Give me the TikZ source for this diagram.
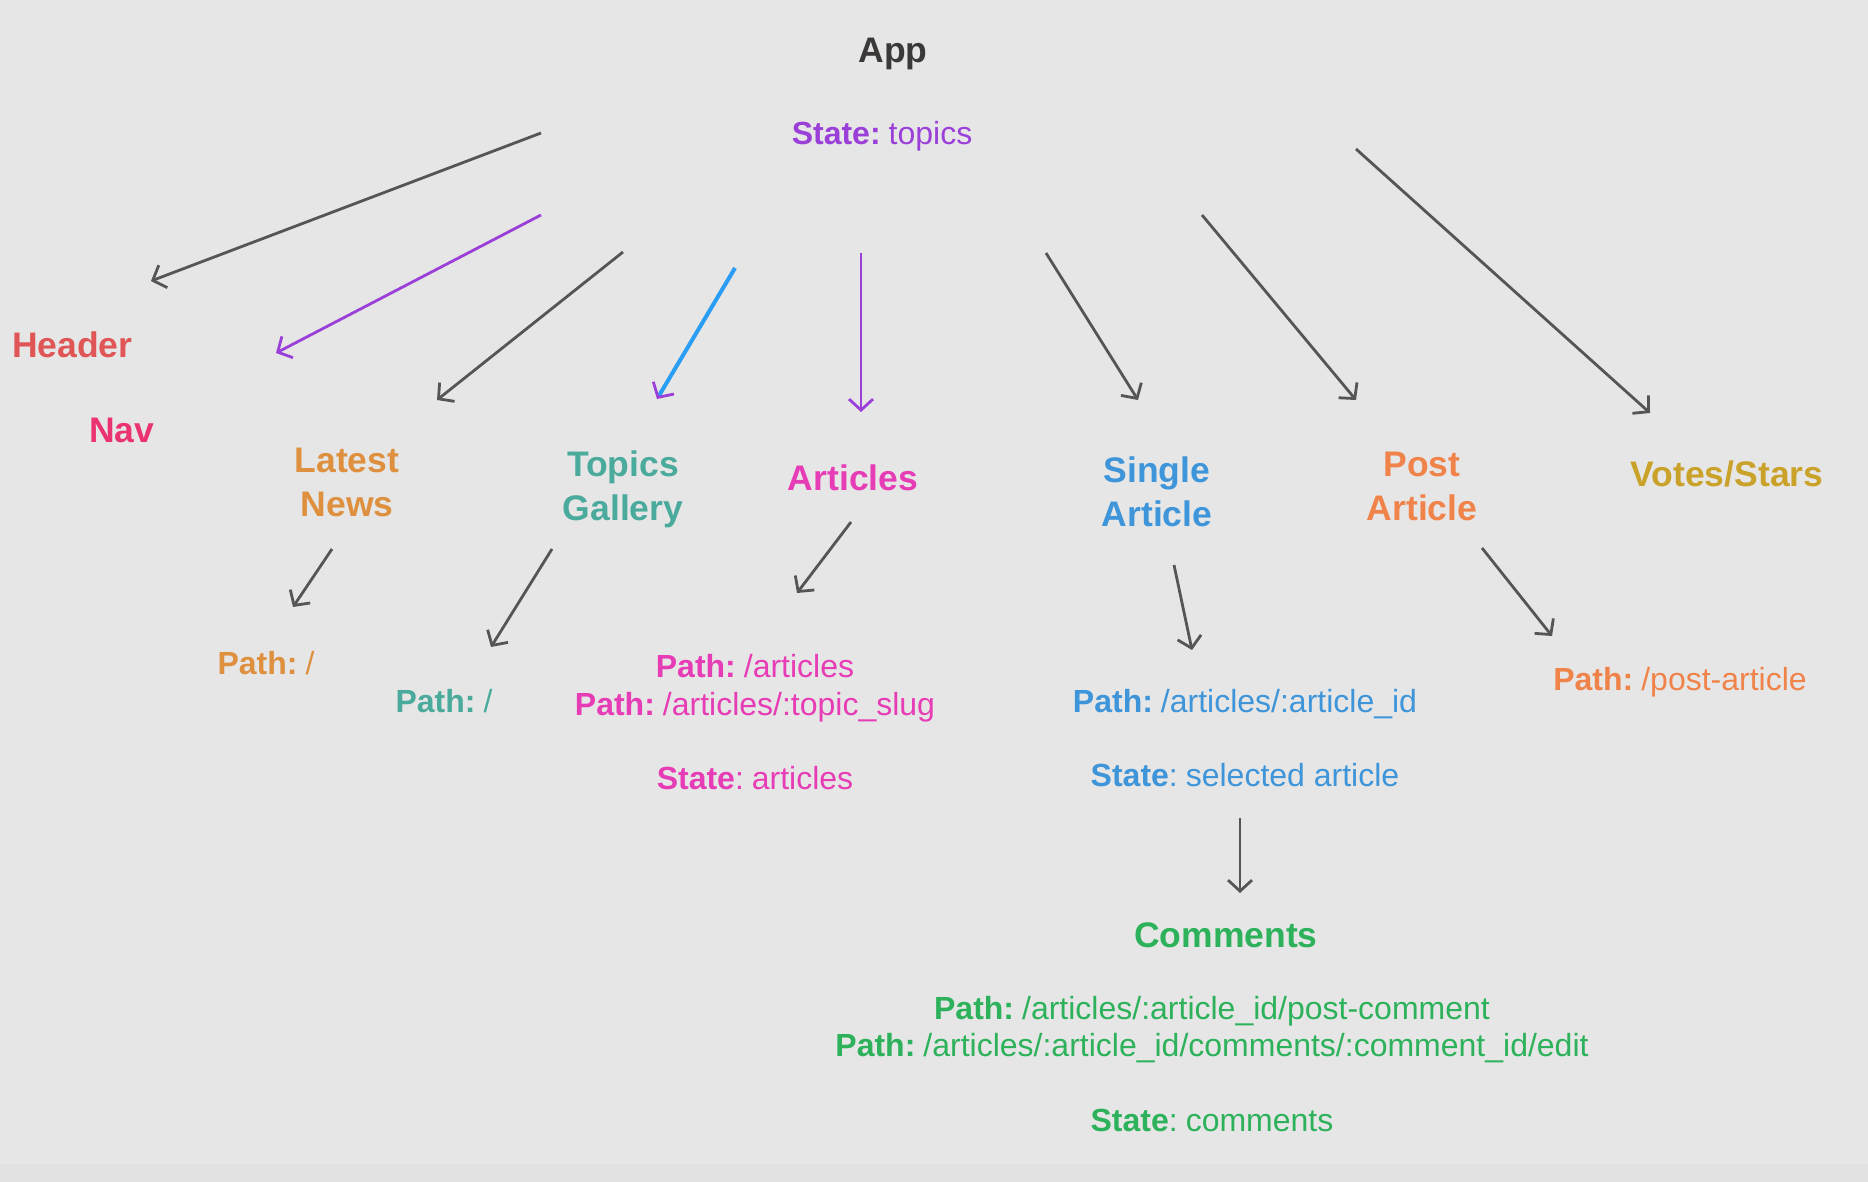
\documentclass[tikz,border=0pt]{standalone}
\usepackage{fontspec}
\setmainfont{Liberation Sans}
\usetikzlibrary{arrows.meta}
\definecolor{bg}{HTML}{E6E6E6}
\definecolor{bgdark}{HTML}{E2E2E2}
\definecolor{appgray}{HTML}{3B3838}
\definecolor{arrowgray}{HTML}{555555}
\definecolor{purp}{HTML}{9B3FD9}
\definecolor{bluearrow}{HTML}{2A9DF4}
\definecolor{headerred}{HTML}{E05656}
\definecolor{navpink}{HTML}{EA3370}
\definecolor{newsorange}{HTML}{DE903F}
\definecolor{teal}{HTML}{4AAA9C}
\definecolor{magenta}{HTML}{E63DB6}
\definecolor{singleblue}{HTML}{3E95D9}
\definecolor{postorange}{HTML}{F0834A}
\definecolor{gold}{HTML}{CAA22A}
\definecolor{green}{HTML}{2DB25B}
\newcommand{\pathlbl}{\textbf{Path:}\hspace{0.25em}}
\newcommand{\statelbl}{\textbf{State}:\hspace{0.25em}}
\begin{document}
\begin{tikzpicture}[x=1pt,y=-1pt,
  title/.style={font=\fontsize{35.5}{44}\selectfont\bfseries, inner sep=0pt, align=center},
  small/.style={font=\fontsize{32}{38}\selectfont, inner sep=0pt, anchor=base},
  tip/.style={-{Straight Barb[length=11pt,width=24pt]}},
  link/.style={line width=2.8pt, tip},
]
\fill[bg] (0,0) rectangle (1868,1182);
\fill[bgdark] (0,1164) rectangle (1868,1182);
\useasboundingbox (0,0) rectangle (1868,1182);

% top level
\node[title, text=appgray, anchor=base] (app) at (893,63) {App};
\node[small, text=purp] (appstate) at (882,145) {\textbf{State:}\hspace{0.25em}topics};

\node[title, text=headerred, anchor=base west] (header) at (12,357) {Header};
\node[title, text=navpink, anchor=base west] (nav) at (89,442) {Nav};
\node[title, text=newsorange] (news) at (347,482) {Latest\\News};
\node[title, text=teal] (gallery) at (623,489) {Topics\\Gallery};
\node[title, text=magenta, anchor=base] (articles) at (853,490) {Articles};
\node[title, text=singleblue] (single) at (1157,492) {Single\\Article};
\node[title, text=postorange] (post) at (1422,486) {Post\\Article};
\node[title, text=gold, anchor=base] (votes) at (1727,486) {Votes/Stars};

% arrow end points from App
\coordinate (s1) at (541,133);  \coordinate (e1) at (151,281);
\coordinate (s2) at (541,215);  \coordinate (e2) at (276,353);
\coordinate (s3) at (623,252);  \coordinate (e3) at (437,400);
\coordinate (s4) at (735,268);  \coordinate (e4) at (657,399);
\coordinate (s5) at (861,253);  \coordinate (e5) at (861,412);
\coordinate (s6) at (1046,253); \coordinate (e6) at (1138,400);
\coordinate (s7) at (1202,215); \coordinate (e7) at (1356,400);
\coordinate (s8) at (1356,149); \coordinate (e8) at (1650,413);

\draw[link, arrowgray] (s1) -- (e1);
\draw[link, purp] (s2) -- (e2);
\draw[link, arrowgray] (s3) -- (e3);
\draw[line width=4pt, bluearrow, -{Straight Barb[length=11pt,width=24pt,color=purp,line width=2.8pt]}] (s4) -- (e4);
\draw[link, purp] (s5) -- (e5);
\draw[link, arrowgray] (s6) -- (e6);
\draw[link, arrowgray] (s7) -- (e7);
\draw[link, arrowgray] (s8) -- (e8);

% second level texts
\node[small, text=newsorange] (newspath) at (266,674) {\pathlbl /};
\node[small, text=teal] (gallerypath) at (444,712) {\pathlbl /};
\node[small, text=magenta] (artpath1) at (755,677) {\pathlbl /articles};
\node[small, text=magenta] (artpath2) at (755,715) {\pathlbl /articles/:topic\_slug};
\node[small, text=magenta] (artstate) at (755,789) {\statelbl articles};
\node[small, text=singleblue] (singlepath) at (1245,712) {\pathlbl /articles/:article\_id};
\node[small, text=singleblue] (singlestate) at (1245,786) {\statelbl selected article};
\node[small, text=postorange] (postpath) at (1680,690) {\pathlbl /post-article};

\node[title, text=green, anchor=base] (comments) at (1226,947) {Comments};
\node[small, text=green] (compath1) at (1212,1019) {\pathlbl /articles/:article\_id/post-comment};
\node[small, text=green] (compath2) at (1212,1056) {\pathlbl /articles/:article\_id/comments/:comment\_id/edit};
\node[small, text=green] (comstate) at (1212,1131) {\statelbl comments};

% second level arrows
\coordinate (a1) at (332,549);  \coordinate (b1) at (293,607);
\coordinate (a2) at (552,549);  \coordinate (b2) at (491,647);
\coordinate (a3) at (851,522);  \coordinate (b3) at (797,593);
\coordinate (a4) at (1174,565); \coordinate (b4) at (1192,650);
\coordinate (a5) at (1482,548); \coordinate (b5) at (1552,636);
\coordinate (a6) at (1240,818); \coordinate (b6) at (1240,893);

\draw[link, arrowgray] (a1) -- (b1);
\draw[link, arrowgray] (a2) -- (b2);
\draw[link, arrowgray] (a3) -- (b3);
\draw[link, arrowgray] (a4) -- (b4);
\draw[link, arrowgray] (a5) -- (b5);
\draw[link, arrowgray] (a6) -- (b6);
\end{tikzpicture}
\end{document}
